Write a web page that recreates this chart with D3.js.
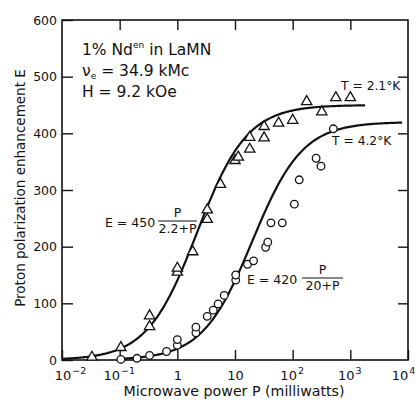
<!DOCTYPE html>
<html>
<head>
<meta charset="utf-8">
<script src="https://cdn.jsdelivr.net/npm/d3@7"></script>
<style>
  html, body { margin: 0; padding: 0; background: #fff; }
  svg text { font-family: 'DejaVu Sans', sans-serif; fill: #111; }
</style>
</head>
<body>
<div id="chart"></div>
<script>
// T = 2.1 K (triangles): microwave power (mW) and enhancement E
var powerT21 = [0.033, 0.105, 0.33, 0.33, 1.0, 1.0, 1.85, 3.3, 3.3, 5.6, 10, 11.4, 18, 18, 32, 32, 57, 100, 175, 320, 560, 1000];
var enhT21 = [5, 22, 59, 78, 155, 162, 191, 248, 265, 310, 352, 358, 372, 393, 392, 412, 418, 423, 456, 438, 463, 463];

// T = 4.2 K (circles)
var powerT42 = [0.105, 0.2, 0.33, 0.65, 1.0, 1.0, 2.1, 2.1, 3.3, 4.2, 5.1, 6.5, 10.3, 10.3, 16.5, 21, 34, 37, 42, 66, 107, 130, 255, 310, 507];
var enhT42 = [1, 3, 8, 15, 26, 36, 48, 58, 77, 88, 99, 114, 141, 150, 169, 175, 199, 208, 242, 242, 275, 318, 356, 342, 408];

// fitted curves E = A * P / (P0 + P), as printed on the chart
var fitAmp = [450, 420];
var fitHalf = [2.2, 20];
var fitFrom = [0.01, 0.093];
var fitTo = [1800, 7900];

var xTicks = [1e-2, 1e-1, 1, 10, 1e2, 1e3, 1e4];
var xTickLabels = [['10', '\u22122'], ['10', '\u22121'], ['1', ''], ['10', ''], ['10', '2'], ['10', '3'], ['10', '4']];
var yTicks = [0, 100, 200, 300, 400, 500, 600];

var RelaxChart = function () {

  var id;

  function init(options) {
    id = options.id;
    draw();
  }

  function draw() {

    var container = d3.select('#' + id);

    var W = 416, H = 402;
    var plot = { left: 62, right: 408, top: 20, bottom: 360 };

    var svg = container.append('svg')
      .attr('width', W)
      .attr('height', H);

    var x = d3.scaleLog()
      .domain([1e-2, 1e4])
      .range([plot.left, plot.right]);

    var y = d3.scaleLinear()
      .domain([0, 600])
      .range([plot.bottom, plot.top]);

    // Frame
    svg.append('rect')
      .attr('x', plot.left)
      .attr('y', plot.top)
      .attr('width', plot.right - plot.left)
      .attr('height', plot.bottom - plot.top)
      .attr('fill', 'none')
      .attr('stroke', '#111')
      .attr('stroke-width', 1.6);

    // Axes, ticks pointing inward
    var left = svg.append('g')
      .attr('transform', 'translate(' + plot.left + ',0)')
      .call(d3.axisLeft(y).tickValues(yTicks).tickSize(-11).tickPadding(5).tickFormat(d3.format('d')));

    var right = svg.append('g')
      .attr('transform', 'translate(' + plot.right + ',0)')
      .call(d3.axisRight(y).tickValues(yTicks.slice(1, -1)).tickSize(-10).tickFormat(''));

    var top = svg.append('g')
      .attr('transform', 'translate(0,' + plot.top + ')')
      .call(d3.axisTop(x).tickValues(xTicks.slice(1, -1)).tickSize(-10).tickFormat(''));

    var bottom = svg.append('g')
      .attr('transform', 'translate(0,' + plot.bottom + ')')
      .call(d3.axisBottom(x).tickValues(xTicks).tickSize(-10).tickFormat(''));

    [left, right, top, bottom].forEach(function (g) {
      g.select('.domain').remove();
      g.selectAll('line').attr('stroke', '#111').attr('stroke-width', 1.4);
    });

    left.selectAll('text')
      .attr('font-size', 12.5)
      .attr('font-family', "'DejaVu Sans', sans-serif")
      .attr('fill', '#111');

    // Power-of-ten labels on the x axis
    var nTicks = xTicks.length;
    bottom.selectAll('.tick').each(function (d, i) {
      var lab = xTickLabels[i];
      var shift = i === 0 ? 8 : (i === nTicks - 1 ? -5 : (lab[1] ? -1 : 0));
      var t = d3.select(this).append('text')
        .attr('x', shift)
        .attr('y', 20)
        .attr('text-anchor', 'middle')
        .attr('font-size', 13)
        .attr('font-family', "'DejaVu Sans', sans-serif")
        .attr('fill', '#111');
      t.append('tspan').text(lab[0]);
      if (lab[1]) {
        t.append('tspan')
          .attr('dy', -6)
          .attr('dx', 1)
          .attr('font-size', 9.5)
          .text(lab[1]);
      }
    });

    // Axis titles
    svg.append('text')
      .attr('x', 234)
      .attr('y', 396)
      .attr('text-anchor', 'middle')
      .attr('font-size', 14.2)
      .text('Microwave power P (milliwatts)');

    svg.append('text')
      .attr('transform', 'translate(25,188) rotate(-90)')
      .attr('text-anchor', 'middle')
      .attr('font-size', 13.5)
      .text('Proton polarization enhancement E');

    // Fitted curves
    var line = d3.line()
      .x(function (d) { return x(d[0]); })
      .y(function (d) { return y(d[1]); });

    fitAmp.forEach(function (amp, k) {
      var lo = Math.log10(fitFrom[k]), hi = Math.log10(fitTo[k]);
      var pts = d3.range(0, 201).map(function (j) {
        var p = Math.pow(10, lo + (hi - lo) * j / 200);
        return [p, amp * p / (fitHalf[k] + p)];
      });
      svg.append('path')
        .attr('d', line(pts))
        .attr('fill', 'none')
        .attr('stroke', '#111')
        .attr('stroke-width', 2.2);
    });

    // Data points
    var tri = d3.symbol().type(d3.symbolTriangle).size(46);

    svg.append('g').selectAll('path')
        .data(d3.zip(powerT21, enhT21))
        .enter()
      .append('path')
        .attr('d', tri)
        .attr('transform', function (d) { return 'translate(' + x(d[0]) + ',' + y(d[1]) + ')'; })
        .attr('fill', '#fff')
        .attr('stroke', '#111')
        .attr('stroke-width', 1.3);

    svg.append('g').selectAll('circle')
        .data(d3.zip(powerT42, enhT42))
        .enter()
      .append('circle')
        .attr('cx', function (d) { return x(d[0]); })
        .attr('cy', function (d) { return y(d[1]); })
        .attr('r', 3.8)
        .attr('fill', '#fff')
        .attr('stroke', '#111')
        .attr('stroke-width', 1.3);

    // Sample description
    var info = svg.append('g').attr('font-size', 15.5);

    var l1 = info.append('text').attr('x', 82).attr('y', 55);
    l1.append('tspan').text('1% Nd');
    l1.append('tspan').attr('dy', -7).attr('font-size', 9).text('en');
    l1.append('tspan').attr('dy', 7).text(' in LaMN');

    var l2 = info.append('text').attr('x', 82).attr('y', 76);
    l2.append('tspan').text('\u03bd');
    l2.append('tspan').attr('dy', 3).attr('font-size', 9).text('e');
    l2.append('tspan').attr('dy', -3).text(' = 34.9 kMc');

    info.append('text').attr('x', 82).attr('y', 97).text('H = 9.2 kOe');

    // Temperature labels
    svg.append('text').attr('x', 341).attr('y', 90).attr('font-size', 12.3).text('T = 2.1\u00b0K');
    svg.append('text').attr('x', 332).attr('y', 145).attr('font-size', 12.3).text('T = 4.2\u00b0K');

    // Fit formulas
    function formula(xs, base, lhs, num, den, x0, x1) {
      var g = svg.append('g').attr('font-size', 12.5);
      g.append('text').attr('x', xs).attr('y', base).text(lhs);
      var cx = (x0 + x1) / 2;
      g.append('text').attr('x', cx).attr('y', base - 10).attr('text-anchor', 'middle').text(num);
      g.append('line')
        .attr('x1', x0).attr('x2', x1)
        .attr('y1', base - 6).attr('y2', base - 6)
        .attr('stroke', '#111').attr('stroke-width', 1.2);
      g.append('text').attr('x', cx).attr('y', base + 6).attr('text-anchor', 'middle').text(den);
    }

    formula(105, 227, 'E = 450', 'P', '2.2+P', 158, 197);
    formula(247, 284, 'E = 420', 'P', '20+P', 302, 343);
  }

  return { init: init, draw: draw };
};

RelaxChart().init({ id: 'chart' });
</script>
</body>
</html>
